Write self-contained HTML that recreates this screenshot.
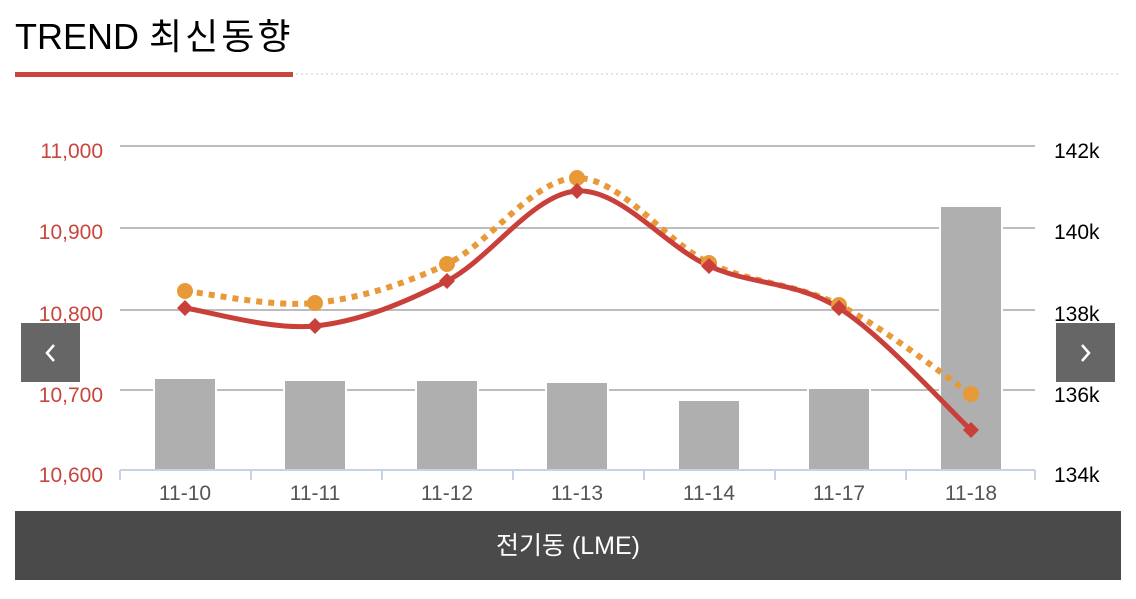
<!DOCTYPE html>
<html><head><meta charset="utf-8"><style>
body{margin:0;width:1136px;height:599px;background:#fff;overflow:hidden;font-family:"Liberation Sans","Noto Sans CJK KR",sans-serif;position:relative}
.t{position:absolute;left:15px;top:15px;font-size:36px;color:#000;line-height:44px}
.t span{letter-spacing:3px}
.nav{position:absolute;top:323px;width:59px;height:59px;background:#666}
.bb{position:absolute;left:15px;top:511px;width:1106px;height:69px;background:#4a4a4a;color:#fff;font-size:25px;text-align:center;line-height:70px}
</style></head><body>
<div class="t">TREND <span>최신동향</span></div>
<svg width="1136" height="599" style="position:absolute;left:0;top:0" font-family="Liberation Sans, sans-serif">
<rect x="15" y="72" width="278" height="5" fill="#c9463d"/>
<line x1="296" y1="74" x2="1121" y2="74" stroke="#ddd" stroke-width="1.5" stroke-dasharray="2,3"/>
<g stroke="#bdbdbd" stroke-width="2">
<line x1="120" y1="146" x2="1035" y2="146"/><line x1="120" y1="228" x2="1035" y2="228"/>
<line x1="120" y1="310" x2="1035" y2="310"/><line x1="120" y1="390" x2="1035" y2="390"/>
</g>
<g fill="#afafaf" stroke="#fff" stroke-width="2">
<rect x="154" y="378" width="62" height="92"/><rect x="284" y="380" width="62" height="90"/>
<rect x="416" y="380" width="62" height="90"/><rect x="546" y="382" width="62" height="88"/>
<rect x="678" y="400" width="62" height="70"/><rect x="808" y="388" width="62" height="82"/>
<rect x="940" y="206" width="62" height="264"/>
</g>
<g stroke="#c5d3e2" stroke-width="2" fill="none">
<line x1="120" y1="470" x2="1035" y2="470"/>
<path d="M120 470v10M251 470v10M382 470v10M513 470v10M644 470v10M775 470v10M906 470v10M1035 470v10"/>
</g>
<g font-size="21" fill="#c9463d" text-anchor="end">
<text x="103" y="158">11,000</text><text x="103" y="239">10,900</text><text x="103" y="321">10,800</text><text x="103" y="402">10,700</text><text x="103" y="482">10,600</text>
</g>
<g font-size="21" fill="#000">
<text x="1054" y="158">142k</text><text x="1054" y="239">140k</text><text x="1054" y="321">138k</text><text x="1054" y="402">136k</text><text x="1054" y="482">134k</text>
</g>
<g font-size="21" fill="#555" text-anchor="middle">
<text x="185" y="500">11-10</text><text x="315" y="500">11-11</text><text x="447" y="500">11-12</text><text x="577" y="500">11-13</text><text x="709" y="500">11-14</text><text x="839" y="500">11-17</text><text x="971" y="500">11-18</text>
</g>
<path d="M185 291C206.7 293 271.3 307.5 315 303C358.7 298.5 403.3 284.8 447 264C490.7 243.2 533.3 178.2 577 178C620.7 177.8 665.3 241.8 709 263C752.7 284.2 795.3 283.2 839 305C882.7 326.8 949 379.2 971 394" fill="none" stroke="#e89a38" stroke-width="6" stroke-dasharray="6,6"/>
<path d="M185 308C206.7 311 271.3 330.5 315 326C358.7 321.5 403.3 303.5 447 281C490.7 258.5 533.3 193.5 577 191C620.7 188.5 665.3 246.5 709 266C752.7 285.5 795.3 280.7 839 308C882.7 335.3 949 409.7 971 430" fill="none" stroke="#c9403a" stroke-width="5"/>
<g fill="#e89a38">
<circle cx="185" cy="291" r="8"/><circle cx="315" cy="303" r="8"/><circle cx="447" cy="264" r="8"/><circle cx="577" cy="178" r="8"/><circle cx="709" cy="263" r="8"/><circle cx="839" cy="305" r="8"/><circle cx="971" cy="394" r="8"/>
</g>
<g fill="#c9403a">
<path d="M185 300l8 8-8 8-8-8z"/><path d="M315 318l8 8-8 8-8-8z"/><path d="M447 273l8 8-8 8-8-8z"/><path d="M577 183l8 8-8 8-8-8z"/><path d="M709 258l8 8-8 8-8-8z"/><path d="M839 300l8 8-8 8-8-8z"/><path d="M971 422l8 8-8 8-8-8z"/>
</g>
</svg>
<div class="nav" style="left:21px"><svg width="59" height="59"><path d="M33 22l-7 8 7 8" stroke="#fff" stroke-width="2.5" fill="none"/></svg></div>
<div class="nav" style="left:1056px"><svg width="59" height="59"><path d="M26 22l7 8-7 8" stroke="#fff" stroke-width="2.5" fill="none"/></svg></div>
<div class="bb">전기동 (LME)</div>
</body></html>
